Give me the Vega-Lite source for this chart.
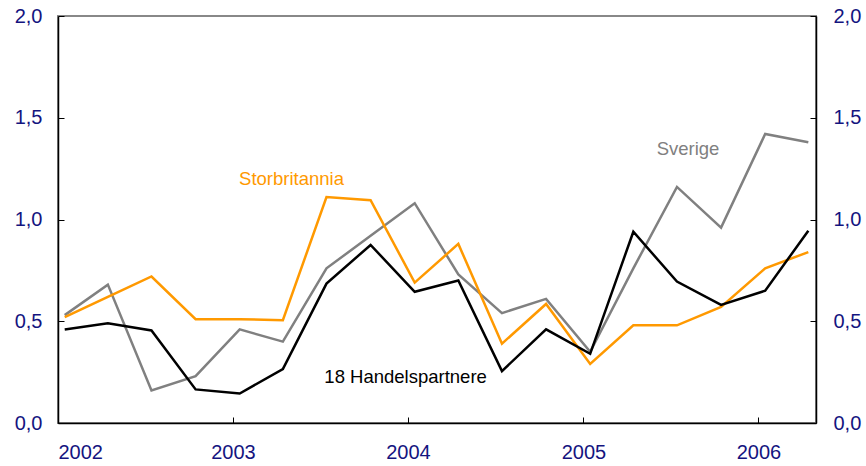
{
  "$schema": "https://vega.github.io/schema/vega-lite/v6.json",
  "width": 758,
  "height": 407,
  "autosize": "none",
  "padding": {"top": 16, "left": 58, "right": 50, "bottom": 43},
  "background": "white",
  "config": {
    "font": "Liberation Sans",
    "view": {"stroke": "#888888", "strokeWidth": 2},
    "axis": {
      "grid": false,
      "title": null,
      "domainColor": "#000000",
      "domainWidth": 1.5,
      "tickColor": "#000000",
      "tickWidth": 1,
      "labelColor": "#14147f",
      "labelFont": "Liberation Sans",
      "labelFontSize": 20,
      "zindex": 1
    }
  },
  "datasets": {
    "series": [
      {"date": "2002-01-15", "series": "Sverige", "value": 0.53},
      {"date": "2002-04-15", "series": "Sverige", "value": 0.68},
      {"date": "2002-07-15", "series": "Sverige", "value": 0.16},
      {"date": "2002-10-15", "series": "Sverige", "value": 0.23},
      {"date": "2003-01-15", "series": "Sverige", "value": 0.46},
      {"date": "2003-04-15", "series": "Sverige", "value": 0.40},
      {"date": "2003-07-15", "series": "Sverige", "value": 0.76},
      {"date": "2003-10-15", "series": "Sverige", "value": 0.92},
      {"date": "2004-01-15", "series": "Sverige", "value": 1.08},
      {"date": "2004-04-15", "series": "Sverige", "value": 0.73},
      {"date": "2004-07-15", "series": "Sverige", "value": 0.54},
      {"date": "2004-10-15", "series": "Sverige", "value": 0.61},
      {"date": "2005-01-15", "series": "Sverige", "value": 0.35},
      {"date": "2005-04-15", "series": "Sverige", "value": 0.76},
      {"date": "2005-07-15", "series": "Sverige", "value": 1.16},
      {"date": "2005-10-15", "series": "Sverige", "value": 0.96},
      {"date": "2006-01-15", "series": "Sverige", "value": 1.42},
      {"date": "2006-04-15", "series": "Sverige", "value": 1.38},
      {"date": "2002-01-15", "series": "Storbritannia", "value": 0.52},
      {"date": "2002-04-15", "series": "Storbritannia", "value": 0.62},
      {"date": "2002-07-15", "series": "Storbritannia", "value": 0.72},
      {"date": "2002-10-15", "series": "Storbritannia", "value": 0.51},
      {"date": "2003-01-15", "series": "Storbritannia", "value": 0.51},
      {"date": "2003-04-15", "series": "Storbritannia", "value": 0.505},
      {"date": "2003-07-15", "series": "Storbritannia", "value": 1.11},
      {"date": "2003-10-15", "series": "Storbritannia", "value": 1.095},
      {"date": "2004-01-15", "series": "Storbritannia", "value": 0.69},
      {"date": "2004-04-15", "series": "Storbritannia", "value": 0.88},
      {"date": "2004-07-15", "series": "Storbritannia", "value": 0.39},
      {"date": "2004-10-15", "series": "Storbritannia", "value": 0.585},
      {"date": "2005-01-15", "series": "Storbritannia", "value": 0.29},
      {"date": "2005-04-15", "series": "Storbritannia", "value": 0.48},
      {"date": "2005-07-15", "series": "Storbritannia", "value": 0.48},
      {"date": "2005-10-15", "series": "Storbritannia", "value": 0.57},
      {"date": "2006-01-15", "series": "Storbritannia", "value": 0.76},
      {"date": "2006-04-15", "series": "Storbritannia", "value": 0.84},
      {"date": "2002-01-15", "series": "18 Handelspartnere", "value": 0.46},
      {"date": "2002-04-15", "series": "18 Handelspartnere", "value": 0.49},
      {"date": "2002-07-15", "series": "18 Handelspartnere", "value": 0.455},
      {"date": "2002-10-15", "series": "18 Handelspartnere", "value": 0.165},
      {"date": "2003-01-15", "series": "18 Handelspartnere", "value": 0.145},
      {"date": "2003-04-15", "series": "18 Handelspartnere", "value": 0.265},
      {"date": "2003-07-15", "series": "18 Handelspartnere", "value": 0.685},
      {"date": "2003-10-15", "series": "18 Handelspartnere", "value": 0.875},
      {"date": "2004-01-15", "series": "18 Handelspartnere", "value": 0.645},
      {"date": "2004-04-15", "series": "18 Handelspartnere", "value": 0.70},
      {"date": "2004-07-15", "series": "18 Handelspartnere", "value": 0.255},
      {"date": "2004-10-15", "series": "18 Handelspartnere", "value": 0.46},
      {"date": "2005-01-15", "series": "18 Handelspartnere", "value": 0.34},
      {"date": "2005-04-15", "series": "18 Handelspartnere", "value": 0.94},
      {"date": "2005-07-15", "series": "18 Handelspartnere", "value": 0.695},
      {"date": "2005-10-15", "series": "18 Handelspartnere", "value": 0.58},
      {"date": "2006-01-15", "series": "18 Handelspartnere", "value": 0.65},
      {"date": "2006-04-15", "series": "18 Handelspartnere", "value": 0.945}
    ],
    "labels": [
      {"date": "2003-05-03", "value": 1.197, "label": "Storbritannia", "series": "Storbritannia"},
      {"date": "2003-12-27", "value": 0.228, "label": "18 Handelspartnere", "series": "18 Handelspartnere"},
      {"date": "2005-08-07", "value": 1.344, "label": "Sverige", "series": "Sverige"}
    ]
  },
  "resolve": {"axis": {"y": "independent"}},
  "layer": [
    {
      "data": {"name": "series"},
      "mark": {"type": "line", "strokeWidth": 2.5, "clip": true},
      "encoding": {
        "x": {
          "field": "date",
          "type": "temporal",
          "scale": {"type": "utc", "domain": [{"year": 2002, "month": 1, "date": 1, "utc": true}, {"year": 2006, "month": 5, "date": 1, "utc": true}]},
          "axis": {
            "values": [
              {"year": 2002, "month": 1, "date": 1, "utc": true},
              {"year": 2003, "month": 1, "date": 1, "utc": true},
              {"year": 2004, "month": 1, "date": 1, "utc": true},
              {"year": 2005, "month": 1, "date": 1, "utc": true},
              {"year": 2006, "month": 1, "date": 1, "utc": true}
            ],
            "format": "%Y",
            "formatType": "utc",
            "tickSize": -6,
            "labelPadding": 25,
            "labelDx": 8
          }
        },
        "y": {
          "field": "value",
          "type": "quantitative",
          "scale": {"domain": [0, 2], "nice": false, "zero": false},
          "axis": {
            "orient": "left",
            "values": [0, 0.5, 1, 1.5, 2],
            "labelExpr": "replace(format(datum.value, '.1f'), '.', ',')",
            "tickSize": -6,
            "labelPadding": 22
          }
        },
        "color": {
          "field": "series",
          "type": "nominal",
          "scale": {"domain": ["Sverige", "Storbritannia", "18 Handelspartnere"], "range": ["#808080", "#ff9900", "#000000"]},
          "legend": null
        },
        "order": {"field": "date"}
      }
    },
    {
      "data": {"name": "labels"},
      "mark": {"type": "text", "font": "Liberation Sans", "fontSize": 18.5, "align": "center", "baseline": "middle"},
      "encoding": {
        "x": {"field": "date", "type": "temporal"},
        "y": {
          "field": "value",
          "type": "quantitative",
          "axis": {
            "orient": "right",
            "values": [0, 0.5, 1, 1.5, 2],
            "labelExpr": "replace(format(datum.value, '.1f'), '.', ',')",
            "tickSize": -6,
            "labelPadding": 23
          }
        },
        "text": {"field": "label"},
        "color": {
          "field": "series",
          "type": "nominal",
          "scale": {"domain": ["Sverige", "Storbritannia", "18 Handelspartnere"], "range": ["#808080", "#ff9900", "#222222"]},
          "legend": null
        }
      }
    }
  ]
}
